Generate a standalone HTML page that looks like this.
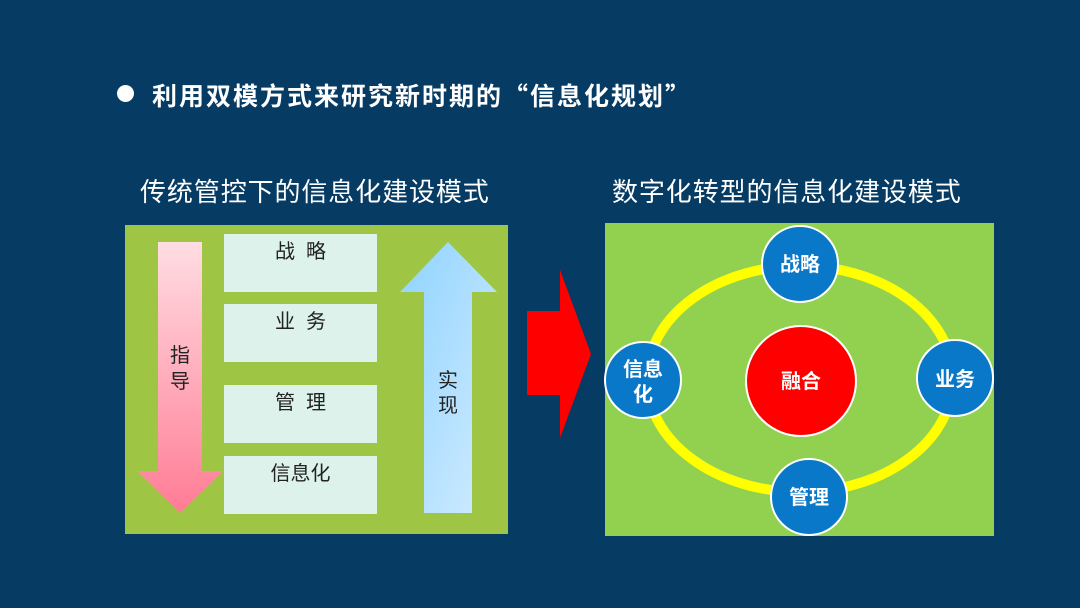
<!DOCTYPE html>
<html><head><meta charset="utf-8"><style>
body{margin:0;width:1080px;height:608px;background:#063b63;overflow:hidden;position:relative;font-family:"Liberation Sans","Noto Sans CJK SC",sans-serif;}
.a{position:absolute;}
.t{color:#fff;white-space:nowrap;}
.box{position:absolute;left:224px;width:153px;height:58px;background:#dcf2ea;text-align:center;font-size:20px;color:#222;line-height:36px;}
</style></head><body>
<div class="a" style="left:117px;top:85px;width:17px;height:17px;border-radius:50%;background:#fff"></div>
<div class="a t" style="left:152px;top:78px;font-size:25px;font-weight:bold;font-family:'Noto Sans CJK SC',sans-serif;line-height:34px;letter-spacing:2px;">利用双模方式来研究新时期的“信息化规划”</div>
<div class="a t" style="left:140px;top:172px;font-size:26px;letter-spacing:0.9px;">传统管控下的信息化建设模式</div>
<div class="a t" style="left:612px;top:172px;font-size:26px;letter-spacing:0.9px;">数字化转型的信息化建设模式</div>
<div class="a" style="left:125px;top:225px;width:383px;height:309px;background:#9fc545"></div>
<div class="box" style="top:234px">战&nbsp;&nbsp;略</div>
<div class="box" style="top:304px">业&nbsp;&nbsp;务</div>
<div class="box" style="top:385px">管&nbsp;&nbsp;理</div>
<div class="box" style="top:456px">信息化</div>
<div class="a" style="left:605px;top:223px;width:389px;height:313px;background:#92d050"></div>
<svg class="a" style="left:0;top:0" width="1080" height="608">
<defs>
<linearGradient id="p" x1="0" y1="0" x2="0" y2="1"><stop offset="0" stop-color="#ffdde2"/><stop offset="1" stop-color="#ff7c95"/></linearGradient>
<linearGradient id="b" x1="0" y1="0" x2="1" y2="1"><stop offset="0" stop-color="#8fd3ff"/><stop offset="1" stop-color="#d2ecff"/></linearGradient>
</defs>
<polygon points="158,242 202,242 202,471 223,471 180,513 137,471 158,471" fill="url(#p)"/>
<polygon points="448,242 497,292 472,292 472,513 424,513 424,292 400,292" fill="url(#b)"/>
<polygon points="527,311 560,311 560,270 591,354 560,438 560,395 527,395" fill="#ff0000"/>
<ellipse cx="800" cy="379" rx="153" ry="113" fill="none" stroke="#ffff00" stroke-width="10"/>
<g stroke="#fff" stroke-width="2" fill="#0a78c8">
<circle cx="800" cy="264" r="38"/><circle cx="955" cy="378" r="38"/><circle cx="809" cy="497" r="38"/><circle cx="643" cy="380" r="38"/>
<circle cx="801" cy="381" r="55" fill="#ff0000"/>
</g>
<g fill="#fff" font-size="20" font-weight="bold" text-anchor="middle" font-family="Liberation Sans,Noto Sans CJK SC,sans-serif">
<text x="800" y="271">战略</text><text x="955" y="386">业务</text><text x="809" y="504">管理</text>
<text x="643" y="376">信息</text><text x="643" y="401">化</text><text x="801" y="388">融合</text>
</g>
<g fill="#222" font-size="20" text-anchor="middle" font-family="Liberation Sans,Noto Sans CJK SC,sans-serif">
<text x="180" y="362">指</text><text x="180" y="388">导</text>
<text x="448" y="387">实</text><text x="448" y="412">现</text>
</g>
</svg>
</body></html>
